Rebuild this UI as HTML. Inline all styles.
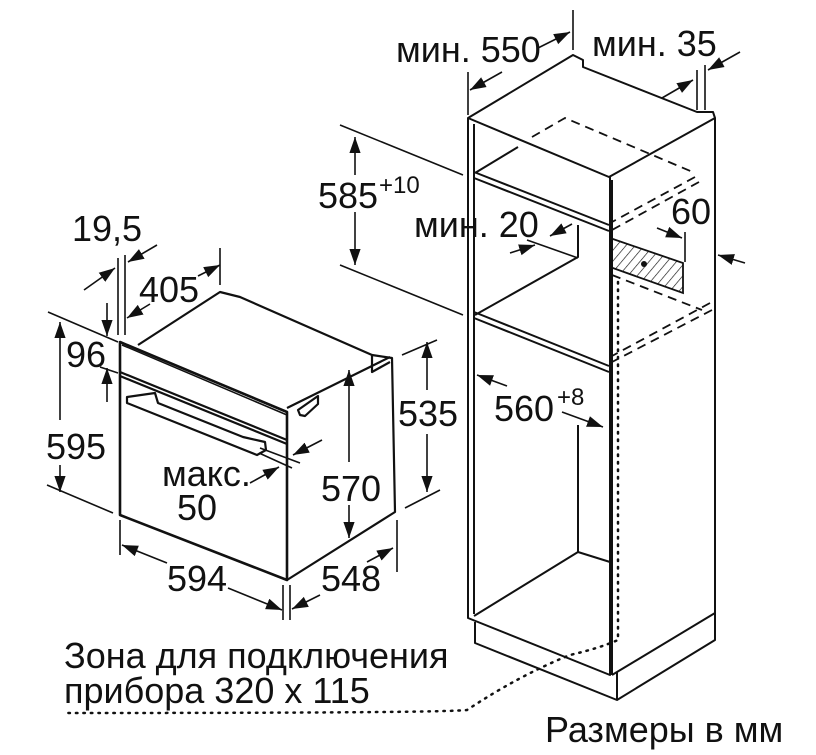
<!DOCTYPE html>
<html><head><meta charset="utf-8"><style>
html,body{margin:0;padding:0;background:#fff;}
svg{display:block}
text{font-family:"Liberation Sans",sans-serif;font-size:36px;fill:#111;}
</style></head><body>
<svg width="816" height="755" viewBox="0 0 816 755" xmlns="http://www.w3.org/2000/svg">
<defs>
<marker id="a" viewBox="0 0 10 10" refX="10" refY="5" markerWidth="16" markerHeight="16" markerUnits="userSpaceOnUse" orient="auto"><path d="M0,1.5 L10,5 L0,8.5 z" fill="#111"/></marker>
<pattern id="h" width="7" height="7" patternUnits="userSpaceOnUse" patternTransform="rotate(40)"><line x1="0" y1="0" x2="0" y2="7" stroke="#111" stroke-width="1.3"/></pattern>
</defs>
<g fill="none" stroke="#111" stroke-width="2" stroke-linejoin="round">
<path d="M468,118 L573,55 L583,60 L583,67 L697,112 L713,112 L715,118 L609,177 L468,118 Z"/>
<path d="M468,118 L468,618 L610,675 L610,177"/>
<path d="M474,124 L474,614"/>
<path d="M612,180 L612,675"/>
<path d="M715,118 L715,640 L617,700 L475,643 L475,622"/>
<path d="M617,672 L617,700"/>
<path d="M612,675 L715,613"/>
<path d="M474,172 L609,225 M474,178 L609,231 M475,173 L518,147"/>
<path d="M474,312 L609,366 M474,318 L609,372 M475,315 L578,257 L578,225"/>
<path d="M474,616 L578,552 L610,562 M578,425 L578,552"/>
<path d="M340,125 L463,175 M340,265 L463,315" stroke-width="1.6"/>
</g>
<g fill="none" stroke="#111" stroke-width="1.8" stroke-dasharray="9,6">
<path d="M532,137 L565,118 L695,173"/>
<path d="M695,177 L612,222 M699,182 L612,230"/>
<path d="M612,275 L702,310"/>
<path d="M710,303 L612,356 M712,310 L612,362"/>
</g>
<polygon points="610,238 683,263 683,293 610,267" fill="url(#h)" stroke="#111" stroke-width="1.8"/>
<circle cx="644" cy="264" r="3" fill="#111"/>
<path d="M618,282 L618,640 Q600,648 570,655 Q520,675 467,710 Q440,713 65,713" fill="none" stroke="#111" stroke-width="2.5" stroke-dasharray="1.5,6" stroke-linecap="round"/>
<g fill="none" stroke="#111" stroke-width="2.2" stroke-linejoin="round">
<path d="M120,342 L287,412 L287,580 L120,515 Z" stroke-width="2.6"/>
<path d="M138,345 L220,292 L240,297 L372,355 L392,358 L395,512 L287,580"/>
<path d="M287,408 L390,357 M372,355 L372,372 L390,362"/>
<path d="M120,372 L287,440 M120,376 L287,444"/>
<path d="M122,345 L287,415" stroke-width="1.5"/>
<path d="M127,397 L155,393 L158,403 L243,437 L265,442 L266,450 L257,455 L127,403 Z"/>
<path d="M298,410 L318,396 L318,404 L305,416 L300,415 Z"/>
</g>
<g fill="none" stroke="#111" stroke-width="1.6">
<path d="M573,10 L573,50 M468,72 L468,115 M502,72 L470,90" marker-end="url(#a)"/>
<path d="M538,48 L570,32" marker-end="url(#a)"/>
<path d="M697,70 L697,110 M705,65 L705,110"/>
<path d="M662,98 L693,80" marker-end="url(#a)"/>
<path d="M740,52 L708,70" marker-end="url(#a)"/>
<path d="M355,175 L355,137" marker-end="url(#a)"/>
<path d="M355,212 L355,265" marker-end="url(#a)"/>
<path d="M572,224 L550,236" marker-end="url(#a)"/>
<path d="M527,240 L578,258"/>
<path d="M510,253 L535,245" marker-end="url(#a)"/>
<path d="M657,228 L682,238" marker-end="url(#a)"/>
<path d="M685,232 L685,262"/>
<path d="M745,263 L718,255" marker-end="url(#a)"/>
<path d="M507,386 L477,375" marker-end="url(#a)"/>
<path d="M562,412 L603,427" marker-end="url(#a)"/>
<path d="M427,390 L427,342" marker-end="url(#a)"/>
<path d="M427,434 L427,492" marker-end="url(#a)"/>
<path d="M402,355 L437,340 M405,508 L440,490"/>
<path d="M118,258 L118,335 M125,255 L125,335"/>
<path d="M84,290 L115,268" marker-end="url(#a)"/>
<path d="M157,245 L128,262" marker-end="url(#a)"/>
<path d="M220,248 L220,285"/>
<path d="M198,276 L220,265" marker-end="url(#a)"/>
<path d="M150,304 L127,318" marker-end="url(#a)"/>
<path d="M107,303 L107,336" marker-end="url(#a)"/>
<path d="M107,402 L107,368" marker-end="url(#a)"/>
<path d="M48,312 L118,342 M100,367 L118,373 M47,485 L113,513"/>
<path d="M60,420 L60,322" marker-end="url(#a)"/>
<path d="M60,465 L60,492" marker-end="url(#a)"/>
<path d="M250,483 L279,467" marker-end="url(#a)"/>
<path d="M260,448 L300,463 M259,453 L292,468"/>
<path d="M322,440 L293,455" marker-end="url(#a)"/>
<path d="M349,462 L349,370" marker-end="url(#a)"/>
<path d="M349,505 L349,538" marker-end="url(#a)"/>
<path d="M120,520 L120,555"/>
<path d="M167,563 L122,545" marker-end="url(#a)"/>
<path d="M228,588 L282,610" marker-end="url(#a)"/>
<path d="M283,585 L283,620 M290,585 L290,620"/>
<path d="M367,562 L393,548" marker-end="url(#a)"/>
<path d="M397,520 L397,572"/>
<path d="M320,595 L292,609" marker-end="url(#a)"/>
</g>
<text x="396" y="62">мин. 550</text>
<text x="592" y="56">мин. 35</text>
<text x="318" y="208">585</text><text x="379" y="193" style="font-size:24px">+10</text>
<text x="414" y="237">мин. 20</text>
<text x="671" y="224">60</text>
<text x="494" y="421">560</text><text x="557" y="405" style="font-size:24px">+8</text>
<text x="398" y="426">535</text>
<text x="72" y="241">19,5</text>
<text x="139" y="302">405</text>
<text x="66" y="367">96</text>
<text x="46" y="459">595</text>
<text x="162" y="486">макс.</text>
<text x="177" y="520">50</text>
<text x="321" y="501">570</text>
<text x="167" y="591">594</text>
<text x="321" y="591">548</text>
<text x="64" y="668">Зона для подключения</text>
<text x="64" y="703">прибора 320 x 115</text>
<text x="545" y="742">Размеры в мм</text>
</svg>
</body></html>
